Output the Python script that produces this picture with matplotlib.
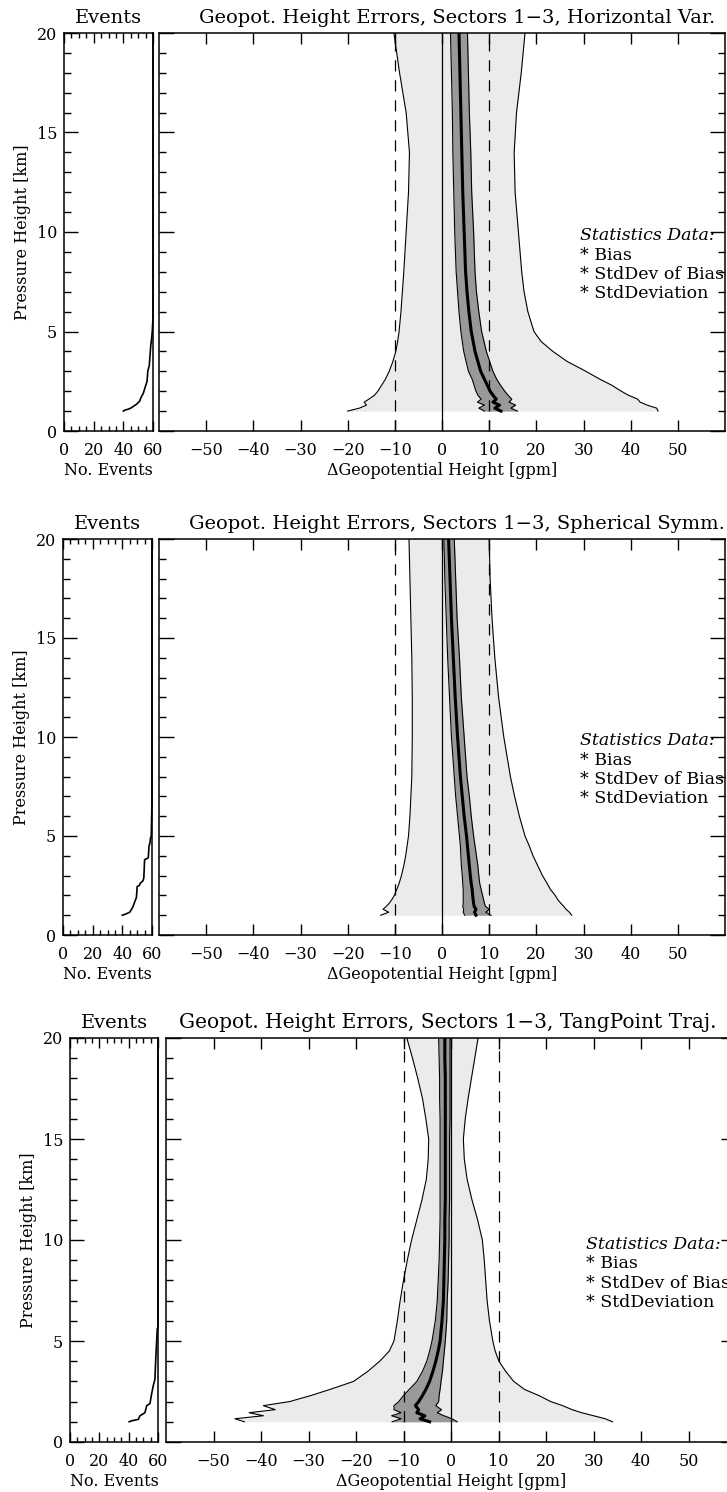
import numpy as np
import matplotlib.pyplot as plt
from matplotlib.ticker import MultipleLocator

plt.rcParams["font.family"] = "DejaVu Serif"
plt.rcParams["axes.linewidth"] = 1.1

W, H = 727, 1492

# ---- Horizontal Var. ----
z_hv = [1.0, 1.15, 1.3, 1.45, 1.6, 1.8, 2.0, 2.3, 2.6, 3.0, 3.5, 4.0, 4.5, 5.0,
        6, 7, 8, 10, 12, 14, 16, 18, 20]
env_lo_hv = [-20, -17.5, -16.0, -16.5, -15.5, -14.3, -13.6, -12.8, -12.0, -11.2, -10.4,
             -9.8, -9.4, -9.1, -8.7, -8.4, -8.1, -7.6, -7.1, -6.9, -7.6, -9.0, -10.2]
env_hi_hv = [45.8, 45.5, 43.5, 42.0, 41.5, 39.5, 38.0, 36.0, 33.5, 30.5, 26.5,
             23.5, 21.0, 19.5, 18.2, 17.4, 16.9, 16.2, 15.5, 15.3, 15.8, 16.8, 17.6]
bias_hv = [12.5, 11.2, 12.2, 10.8, 11.5, 10.8, 10.2, 9.6, 9.0, 8.2, 7.6, 7.0, 6.6, 6.2,
           5.7, 5.3, 5.0, 4.7, 4.4, 4.2, 4.0, 3.8, 3.6]
band_lo_hv = [9.0, 7.8, 9.0, 7.5, 8.3, 7.6, 7.2, 6.8, 6.4, 5.6, 5.1, 4.6, 4.3, 4.0,
              3.6, 3.3, 3.0, 2.7, 2.5, 2.3, 2.2, 2.0, 1.8]
band_hi_hv = [16.0, 14.6, 15.6, 14.2, 14.8, 14.0, 13.3, 12.4, 11.6, 10.8, 10.1, 9.4, 8.9, 8.4,
              7.8, 7.3, 7.0, 6.7, 6.3, 6.1, 5.8, 5.6, 5.4]
ev_hv = [40, 41, 43.5, 45, 47, 49, 51, 52, 53.5, 54.7, 56, 56.5, 57.5, 58, 58.5, 59, 59.5, 60, 60]
ev_z_hv = [1.0, 1.05, 1.1, 1.15, 1.25, 1.35, 1.5, 1.7, 1.9, 2.2, 2.5, 3.0, 3.3, 3.8, 4.3,
           4.6, 5.0, 5.7, 20]

# ---- Spherical Symm. ----
z_ss = [1.0, 1.15, 1.3, 1.45, 1.6, 1.8, 2.0, 2.3, 2.6, 3.0, 3.5, 4.0, 4.5, 5.0,
        6, 7, 8, 10, 12, 14, 16, 18, 20]
env_lo_ss = [-13.0, -11.3, -12.5, -11.8, -11.2, -10.6, -10.1, -9.6, -9.1, -8.6, -8.1,
             -7.7, -7.4, -7.1, -6.8, -6.6, -6.4, -6.3, -6.3, -6.4, -6.6, -6.8, -7.0]
env_hi_ss = [27.5, 27.0, 26.3, 25.8, 25.2, 24.5, 24.0, 23.0, 22.3, 21.3, 20.3,
             19.3, 18.5, 17.6, 16.4, 15.4, 14.5, 13.1, 12.0, 11.2, 10.6, 10.2, 10.0]
bias_ss = [7.2, 6.9, 7.2, 6.8, 6.7, 6.6, 6.5, 6.4, 6.2, 6.0, 5.8, 5.6, 5.4, 5.2,
           4.7, 4.3, 3.9, 3.3, 2.8, 2.4, 2.0, 1.7, 1.4]
band_lo_ss = [4.8, 4.5, 4.6, 4.4, 4.5, 4.5, 4.5, 4.5, 4.4, 4.3, 4.1, 4.0, 3.9, 3.7,
              3.3, 2.9, 2.6, 2.0, 1.6, 1.2, 0.9, 0.6, 0.4]
band_hi_ss = [10.4, 9.3, 10.0, 9.2, 9.0, 8.8, 8.6, 8.3, 8.0, 7.8, 7.6, 7.3, 7.0, 6.7,
              6.2, 5.8, 5.3, 4.7, 4.1, 3.7, 3.2, 2.9, 2.6]
ev_ss = [40, 42, 45, 47, 49.5, 50, 51.5, 52, 54, 54.5, 55, 57.5, 58, 58.5, 59, 59.5, 60, 60]
ev_z_ss = [1.0, 1.05, 1.15, 1.4, 1.9, 2.45, 2.5, 2.6, 2.75, 2.9, 3.8, 3.9, 4.5, 4.6,
           4.9, 5.0, 6.8, 20]

# ---- TangPoint Traj. ----
z_tp = [1.0, 1.15, 1.3, 1.45, 1.6, 1.8, 2.0, 2.3, 2.6, 3.0, 3.5, 4.0, 4.5, 5.0,
        6, 7, 8, 9, 10, 11, 12, 13, 14, 15, 16, 17, 18, 19, 20]
env_lo_tp = [-43.5, -45.5, -39.5, -42.5, -37.0, -39.5, -34.0, -29.5, -25.5, -20.5, -17.5,
             -15.0, -13.0, -12.0, -11.3, -10.7, -10.0, -9.2, -8.3, -7.2, -6.1, -5.2,
             -4.8, -4.7, -5.3, -6.0, -7.0, -8.1, -9.3]
env_hi_tp = [34.0, 32.5, 30.0, 27.5, 25.5, 23.5, 21.0, 18.5, 15.5, 13.2, 11.5,
             10.1, 9.3, 8.8, 8.1, 7.6, 7.3, 7.0, 6.6, 5.6, 4.4, 3.4,
             2.8, 2.6, 3.0, 3.6, 4.3, 5.0, 5.7]
bias_tp = [-4.5, -6.5, -5.5, -7.2, -6.8, -7.5, -6.8, -6.0, -5.3, -4.5, -3.8,
           -3.2, -2.7, -2.3, -1.9, -1.6, -1.5, -1.4, -1.3, -1.3, -1.2, -1.2,
           -1.2, -1.2, -1.2, -1.2, -1.2, -1.3, -1.3]
band_lo_tp = [-12.4, -10.5, -12.5, -10.5, -12.0, -12.0, -11.0, -10.0, -8.8, -7.2, -6.0,
              -5.1, -4.5, -4.0, -3.3, -2.9, -2.7, -2.5, -2.4, -2.3, -2.3, -2.3,
              -2.3, -2.3, -2.3, -2.4, -2.4, -2.5, -2.6]
band_hi_tp = [1.3, 0.2, -1.5, -2.9, -2.0, -3.2, -2.6, -2.5, -2.3, -2.1, -1.8,
              -1.6, -1.4, -1.2, -0.9, -0.8, -0.6, -0.5, -0.4, -0.4, -0.3, -0.3,
              -0.3, -0.3, -0.2, -0.2, -0.2, -0.2, -0.2]
ev_tp = [40.4, 42, 46.6, 47.7, 51.1, 52.3, 54.5, 55.7, 56.8, 57.9, 58.4, 59.5, 60, 60]
ev_z_tp = [1.0, 1.05, 1.12, 1.3, 1.45, 1.8, 1.9, 2.4, 2.8, 3.1, 4.0, 5.6, 5.7, 20]

titles = ["Horizontal Var.", "Spherical Symm.", "TangPoint Traj."]
xticks_main = [-50, -40, -30, -20, -10, 0, 10, 20, 30, 40, 50]
legend_lines = ["* Bias", "* StdDev of Bias", "* StdDeviation"]

# pixel boxes (left, top, right, bottom) for events and main axes,
# then title centre (axes fraction), title size and legend x (gpm)
boxes = [
    ((64, 33, 153, 431), (159, 33, 725, 431), 0.527, 14, 29.3),
    ((63, 539, 152, 935), (159, 539, 725, 935), 0.527, 14, 29.3),
    ((70, 1038, 158, 1442), (166, 1038, 736, 1442), 0.495, 14.5, 28.4),
]

panels = [
    (z_hv, env_lo_hv, env_hi_hv, bias_hv, band_lo_hv, band_hi_hv, ev_hv, ev_z_hv),
    (z_ss, env_lo_ss, env_hi_ss, bias_ss, band_lo_ss, band_hi_ss, ev_ss, ev_z_ss),
    (z_tp, env_lo_tp, env_hi_tp, bias_tp, band_lo_tp, band_hi_tp, ev_tp, ev_z_tp),
]


def rect(b):
    x0, y0, x1, y1 = b
    return [x0 / W, 1 - y1 / H, (x1 - x0) / W, (y1 - y0) / H]


fig = plt.figure(figsize=(W / 100, H / 100), dpi=100)

for (bev, bmain, tx, tsize, lx), data, name in zip(boxes, panels, titles):
    z, elo, ehi, bias, blo, bhi, ev, evz = data

    # number of events
    axe = fig.add_axes(rect(bev))
    axe.plot(ev, evz, color="black", lw=1.2, clip_on=False)
    axe.set_xlim(0, 60)
    axe.set_ylim(0, 20)
    axe.set_xticks([0, 20, 40, 60])
    axe.xaxis.set_minor_locator(MultipleLocator(5))
    axe.set_yticks([0, 5, 10, 15, 20])
    axe.yaxis.set_minor_locator(MultipleLocator(1))
    axe.tick_params(which="both", direction="in", top=True, right=False, labelsize=11.5)
    axe.tick_params(axis="x", which="major", length=7, width=1, pad=8)
    axe.tick_params(axis="x", which="minor", length=3.5, width=1)
    axe.tick_params(axis="y", which="major", length=10, width=1, pad=5)
    axe.tick_params(axis="y", which="minor", length=5, width=1)
    axe.set_xlabel("No. Events", fontsize=11.5, labelpad=2)
    axe.set_ylabel("Pressure Height [km]", fontsize=11.5, labelpad=4)
    axe.text(0.5, 1 + 15 / 400, "Events", transform=axe.transAxes,
             ha="center", va="center", fontsize=14)

    # geopotential height errors
    ax = fig.add_axes(rect(bmain))
    ax.fill_betweenx(z, elo, ehi, color="#ebebeb", lw=0)
    ax.plot(elo, z, color="black", lw=0.8)
    ax.plot(ehi, z, color="black", lw=0.8)
    ax.fill_betweenx(z, blo, bhi, color="#999999", lw=0)
    ax.plot(blo, z, color="black", lw=0.8)
    ax.plot(bhi, z, color="black", lw=0.8)
    ax.plot(bias, z, color="black", lw=2.2)
    ax.axvline(0, color="black", lw=0.9)
    ax.axvline(-10, color="black", lw=0.9, ls=(0, (9, 7)))
    ax.axvline(10, color="black", lw=0.9, ls=(0, (9, 7)))

    ax.set_xlim(-60, 60)
    ax.set_ylim(0, 20)
    ax.set_xticks(xticks_main)
    ax.set_xticklabels([str(v).replace("-", "\u2212") for v in xticks_main])
    ax.set_yticks([0, 5, 10, 15, 20])
    ax.yaxis.set_minor_locator(MultipleLocator(1))
    ax.tick_params(which="both", direction="in", top=True, right=True, labelsize=11.5)
    ax.tick_params(axis="x", which="major", length=8, width=1, pad=8)
    ax.tick_params(axis="y", which="major", length=11, width=1, labelleft=False)
    ax.tick_params(axis="y", which="minor", length=5, width=1)
    ax.set_xlabel("\u0394Geopotential Height [gpm]", fontsize=11.5, labelpad=2)
    ax.text(tx, 1 + 15 / 400, "Geopot. Height Errors, Sectors 1\u22123, " + name,
            transform=ax.transAxes, ha="center", va="center", fontsize=tsize)

    ax.text(lx, 9.8, "Statistics Data:", style="italic", fontsize=12.5, va="center")
    for i, s in enumerate(legend_lines):
        ax.text(lx, 9.8 - 0.97 * (i + 1), s, fontsize=12.5, va="center")

fig.savefig("out.png", dpi=100)
